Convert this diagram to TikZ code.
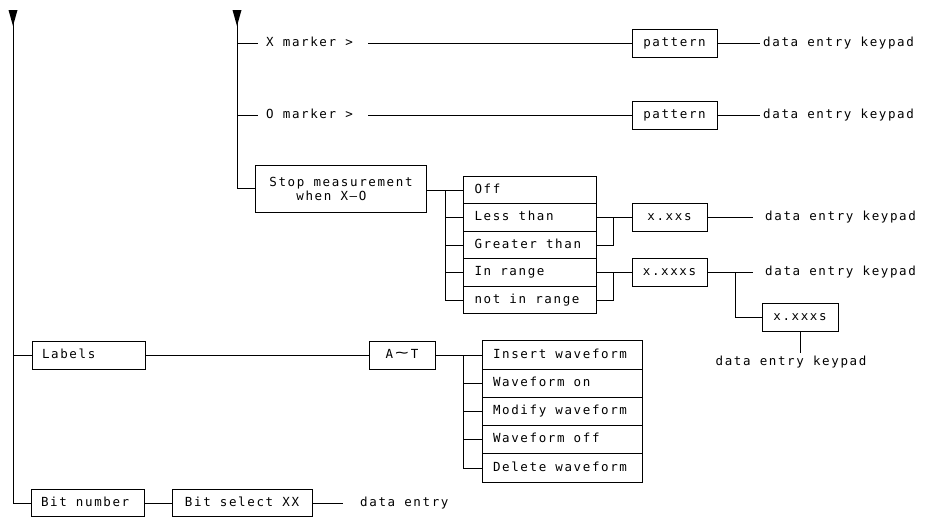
\documentclass[tikz,border=0pt]{standalone}
\usepackage{fontspec}
\newfontfamily\dgtx[LetterSpace=13]{DejaVu Sans Mono}
\newcommand\dgfont{\dgtx\fontsize{12.5}{15}\selectfont}
\newcommand\lbox[2]{\makebox[#1][l]{#2}}
\begin{document}
\begin{tikzpicture}[x=1pt,y=-1pt,
  wire/.style={line width=0.9pt},
  txt/.style={font=\dgfont, inner sep=0pt, anchor=west, text height=8.5pt, text depth=2.5pt},
  bx/.style={draw, line width=0.9pt, font=\dgfont, inner sep=0pt, text height=8.5pt, text depth=2.5pt},
  rowa/.style={bx, minimum width=133pt, minimum height=27.5pt},
  rowb/.style={bx, minimum width=160pt, minimum height=28.25pt},
  tip/.style={fill=black}]
\useasboundingbox (0,0) rectangle (928,530);
% named points
\coordinate (topL) at (13,10);
\coordinate (topR) at (237,10);
\coordinate (b1) at (445,190);
\coordinate (b2) at (613,217.5);
\coordinate (b3) at (613,272.5);
\coordinate (b4) at (735,272.5);
\coordinate (b5) at (463,355);
\coordinate (c5) at (800,353);
% markers
\node[txt] (xm) at (266,43) {X marker >};
\node[bx, minimum width=85pt, minimum height=28pt] (pat1) at (674.5,43) {pattern};
\node[txt] (dk1) at (763,43) {data entry keypad};
\node[txt] (om) at (266,115) {O marker >};
\node[bx, minimum width=85pt, minimum height=28pt] (pat2) at (674.5,115) {pattern};
\node[txt] (dk2) at (763,115) {data entry keypad};
% stop measurement
\node[draw, line width=0.9pt, font=\dgfont, inner sep=0pt, minimum width=171pt, minimum height=47pt, align=left] (stop) at (341,188.5) {Stop measurement\\[-1pt]\hspace*{27pt}when X–O};
\node[rowa] (off) at (529.5,190) {\lbox{110pt}{Off}};
\node[rowa] (less) at (529.5,217.5) {\lbox{110pt}{Less than}};
\node[rowa] (greater) at (529.5,245) {\lbox{110pt}{Greater than}};
\node[rowa] (inr) at (529.5,272.5) {\lbox{110pt}{In range}};
\node[rowa] (notin) at (529.5,300) {\lbox{110pt}{not in range}};
\node[bx, minimum width=75pt, minimum height=28pt] (xs) at (669.5,217.5) {x.xxs};
\node[bx, minimum width=75pt, minimum height=28pt] (xxs) at (669.5,272.5) {x.xxxs};
\node[txt] (dk3) at (765,217.5) {data entry keypad};
\node[txt] (dk4) at (765,272.5) {data entry keypad};
\node[bx, minimum width=76pt, minimum height=28pt] (xxs2) at (800,317) {x.xxxs};
\node[txt, anchor=north] (dk5) at (791,357) {data entry keypad};
% labels
\node[bx, minimum width=113pt, minimum height=28pt] (labels) at (88.5,355) {\lbox{93pt}{Labels}};
\node[bx, minimum width=66pt, minimum height=28pt] (at) at (402,355) {A\,\raisebox{1pt}{\scalebox{1.8}[1.1]{∼}}\,T};
\node[rowb] (ins) at (562,355) {\lbox{138pt}{Insert waveform}};
\node[rowb] (won) at (562,383.25) {\lbox{138pt}{Waveform on}};
\node[rowb] (mod) at (562,411.5) {\lbox{138pt}{Modify waveform}};
\node[rowb] (woff) at (562,439.75) {\lbox{138pt}{Waveform off}};
\node[rowb] (del) at (562,468) {\lbox{138pt}{Delete waveform}};
% bit number
\node[bx, minimum width=113pt, minimum height=27pt] (bitn) at (87.5,503) {\lbox{93pt}{Bit number}};
\node[bx, minimum width=140pt, minimum height=27pt] (bsel) at (242,503) {Bit select XX};
\node[txt] (de) at (360,503) {data entry};
% connectors
\draw[wire] (topL) |- (bitn.west);
\draw[wire] (topL |- labels.west) -- (labels.west);
\draw[wire] (topR) |- (stop.west);
\draw[wire] (topR |- xm.west) -- ([xshift=-8pt]xm.west);
\draw[wire] (topR |- om.west) -- ([xshift=-8pt]om.west);
\draw[wire] ([xshift=15pt]xm.east) -- (pat1.west);
\draw[wire] ([xshift=15pt]om.east) -- (pat2.west);
\draw[wire] (pat1.east) -- ([xshift=-3pt]dk1.west);
\draw[wire] (pat2.east) -- ([xshift=-3pt]dk2.west);
\draw[wire] (stop.east |- off.west) -- (off.west);
\draw[wire] (b1) |- (notin.west);
\draw[wire] (b1 |- less.west) -- (less.west);
\draw[wire] (b1 |- greater.west) -- (greater.west);
\draw[wire] (b1 |- inr.west) -- (inr.west);
\draw[wire] (less.east) -- (xs.west);
\draw[wire] (greater.east) -| (b2);
\draw[wire] (inr.east) -- (xxs.west);
\draw[wire] (notin.east) -| (b3);
\draw[wire] (xs.east) -- ([xshift=-12pt]dk3.west);
\draw[wire] (xxs.east) -- ([xshift=-12pt]dk4.west);
\draw[wire] (b4) |- (xxs2.west);
\draw[wire] (xxs2.south) -- (c5);
\draw[wire] (labels.east) -- (at.west);
\draw[wire] (at.east) -- (ins.west);
\draw[wire] (b5) |- (del.west);
\draw[wire] (b5 |- won.west) -- (won.west);
\draw[wire] (b5 |- mod.west) -- (mod.west);
\draw[wire] (b5 |- woff.west) -- (woff.west);
\draw[wire] (bitn.east) -- (bsel.west);
\draw[wire] (bsel.east) -- ([xshift=-17pt]de.west);
% arrowheads
\fill[tip] (topL) ++(-4.5,0) -- ++(9,0) -- ++(-4.5,16) -- cycle;
\fill[tip] (topR) ++(-4.5,0) -- ++(9,0) -- ++(-4.5,16) -- cycle;
\end{tikzpicture}
\end{document}
